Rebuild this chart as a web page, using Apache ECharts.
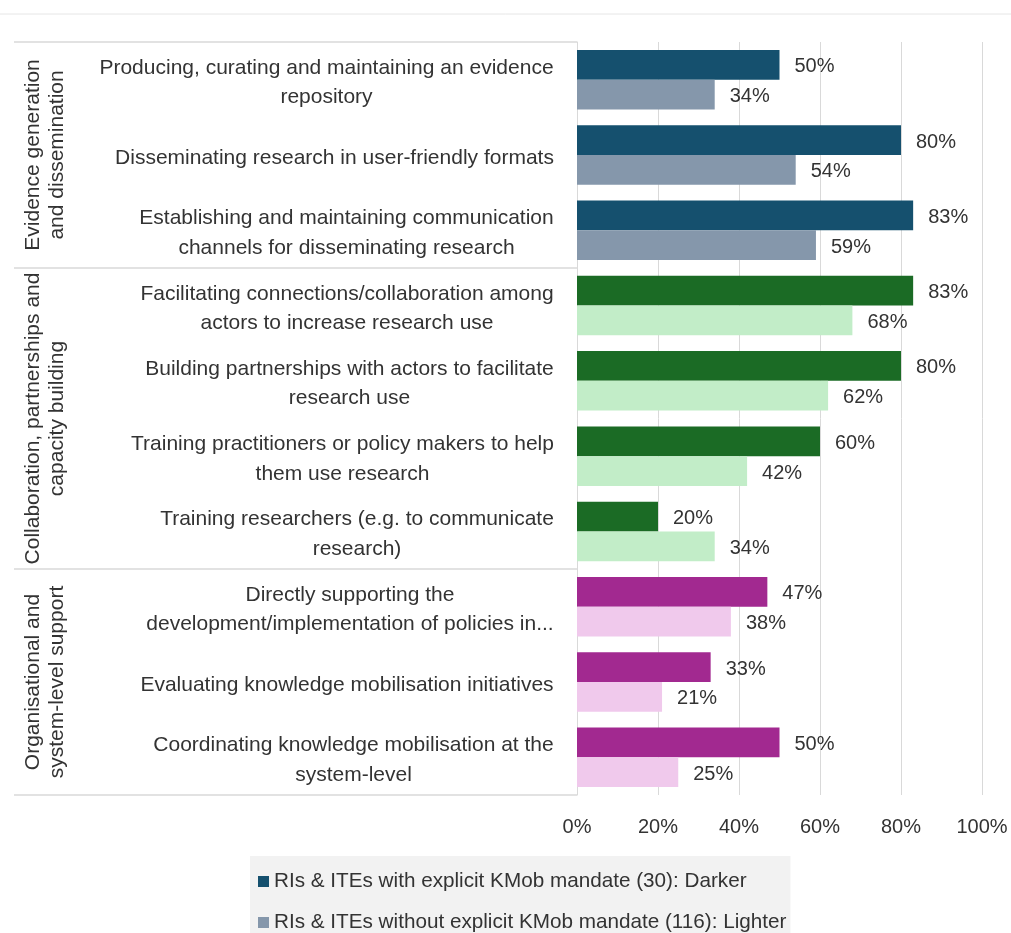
<!DOCTYPE html>
<html>
<head>
<meta charset="utf-8">
<script src="https://cdn.jsdelivr.net/npm/echarts@6/dist/echarts.min.js"></script>
<style>
  html, body { margin: 0; padding: 0; background: #ffffff; }
  #chart { width: 1011px; height: 933px; }
</style>
</head>
<body>
<div id="chart"></div>
<script>
// Knowledge-mobilisation activities, share of organisations reporting each one
const categories = [
  'Producing, curating and maintaining an evidence\nrepository',
  'Disseminating research in user-friendly formats',
  'Establishing and maintaining communication\nchannels for disseminating research',
  'Facilitating connections/collaboration among\nactors to increase research use',
  'Building partnerships with actors to facilitate\nresearch use',
  'Training practitioners or policy makers to help\nthem use research',
  'Training researchers (e.g. to communicate\nresearch)',
  'Directly supporting the\ndevelopment/implementation of policies in...',
  'Evaluating knowledge mobilisation initiatives',
  'Coordinating knowledge mobilisation at the\nsystem-level'
];
// Which activity group each category belongs to (index into groupNames)
const categoryGroup = [0, 0, 0, 1, 1, 1, 1, 2, 2, 2];
const groupNames = [
  'Evidence generation\nand dissemination',
  'Collaboration, partnerships and\ncapacity building',
  'Organisational and\nsystem-level support'
];
const seriesNames = [
  'RIs & ITEs with explicit KMob mandate (30): Darker',
  'RIs & ITEs without explicit KMob mandate (116): Lighter'
];
const withMandate    = [50, 80, 83, 83, 80, 60, 20, 47, 33, 50];
const withoutMandate = [34, 54, 59, 68, 62, 42, 34, 38, 21, 25];
const xTicks = [0, 20, 40, 60, 80, 100];

// Group palettes: [darker, lighter]
const groupColors = [
  ['#15506e', '#8597ab'],
  ['#1b6b25', '#c2edc8'],
  ['#a22990', '#f0c9ec']
];

const FONT = 'Liberation Sans, Arial, sans-serif';
const TEXT = '#333333';
const LINE = '#d9d9d9';
const CAT_SIZE = 21;

// Measure the widest line of each label so its lines can be centred
// on each other while the block stays right-aligned against the axis.
const measureCtx = document.createElement('canvas').getContext('2d');
measureCtx.font = CAT_SIZE + 'px ' + FONT;
const rich = {};
categories.forEach((c, i) => {
  const w = Math.max(...c.split('\n').map(l => measureCtx.measureText(l).width));
  rich['c' + i] = {
    width: Math.ceil(w) + 2, align: 'center',
    fontSize: CAT_SIZE, lineHeight: 29.5, color: TEXT, fontFamily: FONT
  };
});

const gridTop = 42, gridBottom = 138, gridLeft = 577, gridRight = 29;

function barData(values, shade) {
  return values.map((v, i) => ({
    value: v,
    itemStyle: { color: groupColors[categoryGroup[i]][shade] }
  }));
}

const valueLabel = {
  show: true, position: 'right', distance: 15, offset: [0, 2],
  formatter: p => p.value + '%',
  fontSize: 20, color: TEXT, fontFamily: FONT
};

const chart = echarts.init(document.getElementById('chart'), null, { renderer: 'canvas' });

chart.setOption({
  backgroundColor: '#ffffff',
  animation: false,
  textStyle: { fontFamily: FONT },
  grid: { left: gridLeft, right: gridRight, top: gridTop, bottom: gridBottom, containLabel: false },
  xAxis: {
    type: 'value',
    min: xTicks[0],
    max: xTicks[xTicks.length - 1],
    interval: 20,
    axisLine: { show: false },
    axisTick: { show: false },
    splitLine: { lineStyle: { color: LINE, width: 1 } },
    axisLabel: {
      formatter: v => v + '%',
      fontSize: 20, color: TEXT, fontFamily: FONT, margin: 22
    }
  },
  yAxis: {
    type: 'category',
    inverse: true,
    data: categories,
    axisLine: { show: true, lineStyle: { color: LINE, width: 1 } },
    axisTick: { show: false },
    axisLabel: {
      margin: 22,
      align: 'right',
      interval: 0,
      padding: [6, 0, 0, 0],
      formatter: (val, idx) => val.split('\n').map(l => '{c' + idx + '|' + l + '}').join('\n'),
      rich: rich
    }
  },
  legend: {
    orient: 'vertical',
    left: 250,
    bottom: -16,
    data: seriesNames,
    icon: 'rect',
    itemWidth: 11,
    itemHeight: 11,
    itemGap: 20,
    backgroundColor: '#f2f2f2',
    padding: [15, 4, 16, 8],
    textStyle: { fontSize: 20.7, color: TEXT, fontFamily: FONT }
  },
  series: [
    {
      name: seriesNames[0],
      type: 'bar',
      data: barData(withMandate, 0),
      itemStyle: { color: groupColors[0][0] },
      barGap: '0%',
      barCategoryGap: '21%',
      label: valueLabel
    },
    {
      name: seriesNames[1],
      type: 'bar',
      data: barData(withoutMandate, 1),
      itemStyle: { color: groupColors[0][1] },
      barGap: '0%',
      barCategoryGap: '21%',
      label: valueLabel
    }
  ]
});

// Group frame and rotated group titles on the left of the category labels
function drawGroups() {
  const p0 = chart.convertToPixel({ yAxisIndex: 0 }, 0);
  const p1 = chart.convertToPixel({ yAxisIndex: 0 }, 1);
  const band = p1 - p0;
  const edgeOf = i => p0 - band / 2 + i * band;
  const boxLeft = 14;
  const elements = [
    { type: 'line', shape: { x1: 0, y1: 14, x2: 1011, y2: 14 },
      style: { stroke: '#e6e6e6', lineWidth: 1 }, silent: true }
  ];
  const bounds = [];
  groupNames.forEach((g, gi) => {
    const idx = categoryGroup.map((v, i) => v === gi ? i : -1).filter(i => i >= 0);
    bounds.push([edgeOf(idx[0]), edgeOf(idx[idx.length - 1] + 1)]);
  });
  const ys = [bounds[0][0]].concat(bounds.map(b => b[1]));
  ys.forEach(y => elements.push({
    type: 'line', shape: { x1: boxLeft, y1: y, x2: gridLeft, y2: y },
    style: { stroke: LINE, lineWidth: 1.5 }, silent: true
  }));
  groupNames.forEach((g, gi) => {
    elements.push({
      type: 'text',
      x: 45,
      y: (bounds[gi][0] + bounds[gi][1]) / 2,
      rotation: Math.PI / 2,
      style: {
        text: g, fill: TEXT, fontSize: 21, fontFamily: FONT,
        align: 'center', verticalAlign: 'middle', lineHeight: 24
      },
      silent: true
    });
  });
  chart.setOption({ graphic: elements });
}
drawGroups();
</script>
</body>
</html>
